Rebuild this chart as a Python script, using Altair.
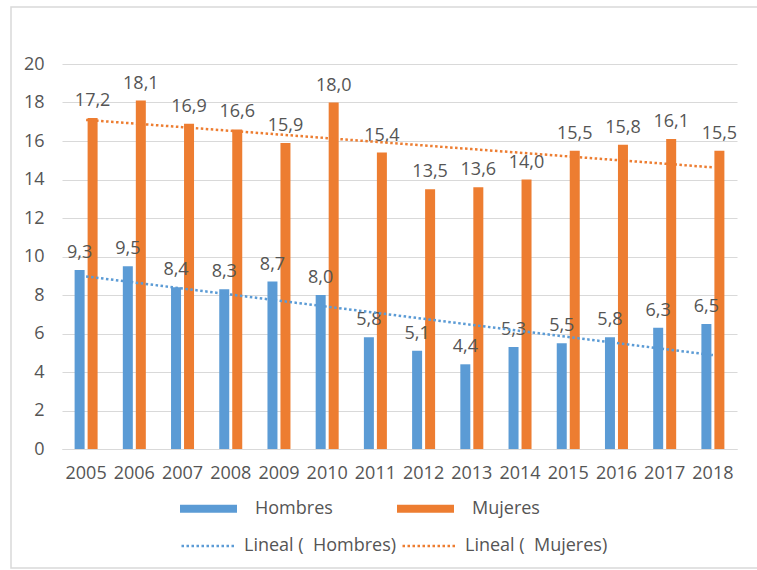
import altair as alt
import numpy as np
import pandas as pd

# ---- data ----
years = [str(y) for y in range(2005, 2019)]
hombres = [9.3, 9.5, 8.4, 8.3, 8.7, 8.0, 5.8, 5.1, 4.4, 5.3, 5.5, 5.8, 6.3, 6.5]
mujeres = [17.2, 18.1, 16.9, 16.6, 15.9, 18.0, 15.4, 13.5, 13.6, 14.0, 15.5, 15.8, 16.1, 15.5]
series = ["Hombres", "Mujeres"]
trend_names = ["Lineal (\u00a0 Hombres)", "Lineal (\u00a0 Mujeres)"]
colors = ["#5B9BD5", "#ED7D31"]
y_ticks = list(range(0, 21, 2))

FONT = "Open Sans"
FS = 18
TXT = "#555555"
GRID = "#d9d9d9"

# long table for bars and labels
bars = pd.DataFrame({
    "year": years * 2,
    "serie": [series[0]] * len(years) + [series[1]] * len(years),
    "valor": hombres + mujeres,
})

# least-squares linear trend per series (category index 1..n)
idx = np.arange(1, len(years) + 1)
trend_rows = []
for name, vals in zip(trend_names, [hombres, mujeres]):
    coef = np.polyfit(idx, vals, 1)
    for y, v in zip(years, np.polyval(coef, idx)):
        trend_rows.append({"year": y, "tendencia": name, "valor": float(v)})
trend = pd.DataFrame(trend_rows)

x_enc = alt.X(
    "year:N", sort=years,
    scale=alt.Scale(paddingInner=0.523, paddingOuter=0.2615),
    axis=alt.Axis(title=None, labelAngle=0, ticks=False, domainColor=GRID,
                  domainWidth=1, labelPadding=15, labelFontSize=FS,
                  labelColor=TXT, labelFont=FONT),
)
y_enc = alt.Y(
    "valor:Q",
    scale=alt.Scale(domain=[0, 20], nice=False),
    axis=alt.Axis(title=None, values=y_ticks, domain=False, ticks=False,
                  gridColor=GRID, gridWidth=1, labelPadding=18,
                  labelFontSize=FS, labelColor=TXT, labelFont=FONT),
)
xoff = alt.XOffset("serie:N", sort=series,
                   scale=alt.Scale(paddingInner=3 / 13, paddingOuter=0))

bar_layer = alt.Chart(bars).mark_bar().encode(
    x=x_enc, y=y_enc, xOffset=xoff,
    fill=alt.Fill(
        "serie:N", sort=series,
        scale=alt.Scale(domain=series, range=colors),
        legend=alt.Legend(
            title=None, orient="none", legendX=118, legendY=416,
            direction="horizontal", padding=0,
            symbolType="M-1,-0.14L1,-0.14L1,0.14L-1,0.14Z",
            symbolSize=3249, symbolStrokeWidth=0, symbolOpacity=1,
            labelOffset=18, columnPadding=64,
            labelFontSize=FS, labelColor=TXT, labelFont=FONT,
        ),
    ),
)

label_layer = alt.Chart(bars).transform_calculate(
    label="replace(format(datum.valor, '.1f'), '.', ',')"
).mark_text(baseline="bottom", dy=-8, fontSize=FS, color=TXT, font=FONT).encode(
    x=x_enc, y=y_enc, xOffset=xoff, text="label:N",
)

trend_layer = alt.Chart(trend).mark_line(
    strokeWidth=2.5, strokeDash=[2.5, 2.5]
).encode(
    x=x_enc, y=y_enc,
    stroke=alt.Stroke(
        "tendencia:N", sort=trend_names,
        scale=alt.Scale(domain=trend_names, range=colors),
        legend=alt.Legend(
            title=None, orient="none", legendX=118, legendY=454,
            direction="horizontal", padding=0,
            symbolType="stroke", symbolSize=2809, symbolStrokeWidth=2.5,
            symbolDash=[2.5, 2.5],
            labelOffset=8, columnPadding=0,
            labelFontSize=FS, labelColor=TXT, labelFont=FONT,
        ),
    ),
)

# outer frame of the chart
frame = alt.Chart(pd.DataFrame({"k": [0]})).mark_rect(
    fill="transparent", stroke=GRID, strokeWidth=1.5
).encode(
    x=alt.value(-51), x2=alt.value(720), y=alt.value(-57), y2=alt.value(504)
)

chart = alt.layer(frame, bar_layer, label_layer, trend_layer).properties(
    width=675, height=385,
    autosize=alt.AutoSizeParams(type="none"),
    padding={"left": 62, "top": 64, "right": 20, "bottom": 121},
    background="white",
).configure_view(stroke=None)

chart.save("out.html", embed_options={"renderer": "svg", "actions": False})
